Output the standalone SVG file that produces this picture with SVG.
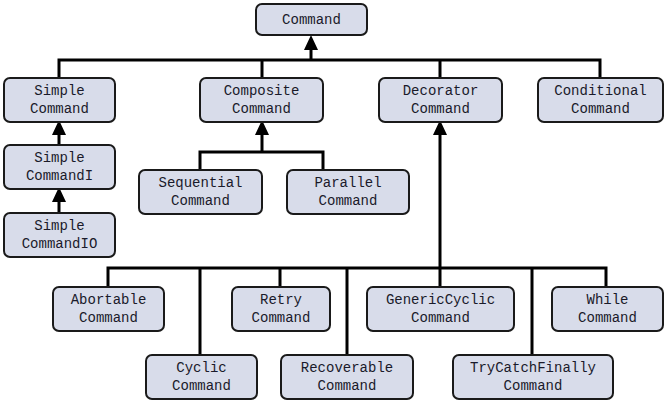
<svg xmlns="http://www.w3.org/2000/svg" width="666" height="402" viewBox="0 0 666 402">
<style>
.box{fill:#d8dcea;stroke:#1a1a1a;stroke-width:2}
.t{font-family:"Liberation Mono","Courier New",monospace;font-size:14px;fill:#1a1a2a;text-anchor:middle}
.c{fill:none;stroke:#000;stroke-width:3}
</style>
<defs>
<marker id="tri" viewBox="0 0 15 14" refX="0" refY="7" markerWidth="15" markerHeight="14" markerUnits="userSpaceOnUse" orient="auto">
<path d="M0,0 L15,7 L0,14 z" fill="#000"/>
</marker>
</defs>
<rect width="666" height="402" fill="#fff"/>
<g id="connectors">
<path class="c" d="M311,60 V50" marker-end="url(#tri)"/>
<path class="c" d="M59,78 V60 H600 V78 M262,60 V78 M440,60 V78"/>
<path class="c" d="M59,145 V135" marker-end="url(#tri)"/>
<path class="c" d="M59,213 V202" marker-end="url(#tri)"/>
<path class="c" d="M262,152 V135" marker-end="url(#tri)"/>
<path class="c" d="M200,170 V152 H323 V170"/>
<path class="c" d="M440,268 V135" marker-end="url(#tri)"/>
<path class="c" d="M108,287 V268 H606 V287 M200,268 V355 M280,268 V287 M347,268 V355 M440,268 V287 M532,268 V355"/>
</g>
<g id="command"><rect class="box" x="256" y="4" width="111" height="31" rx="6"/><text class="t" x="311.5" y="24">Command</text></g>
<g id="simple"><rect class="box" x="4" y="78" width="111" height="44" rx="6"/><text class="t" x="59.5" y="95">Simple</text><text class="t" x="59.5" y="113">Command</text></g>
<g id="composite"><rect class="box" x="200" y="78" width="123" height="44" rx="6"/><text class="t" x="261.5" y="95">Composite</text><text class="t" x="261.5" y="113">Command</text></g>
<g id="decorator"><rect class="box" x="379" y="78" width="123" height="44" rx="6"/><text class="t" x="440.5" y="95">Decorator</text><text class="t" x="440.5" y="113">Command</text></g>
<g id="conditional"><rect class="box" x="538" y="78" width="125" height="44" rx="6"/><text class="t" x="600.5" y="95">Conditional</text><text class="t" x="600.5" y="113">Command</text></g>
<g id="simpleI"><rect class="box" x="4" y="145" width="111" height="44" rx="6"/><text class="t" x="59.5" y="162">Simple</text><text class="t" x="59.5" y="180">CommandI</text></g>
<g id="simpleIO"><rect class="box" x="4" y="213" width="111" height="44" rx="6"/><text class="t" x="59.5" y="230">Simple</text><text class="t" x="59.5" y="248">CommandIO</text></g>
<g id="sequential"><rect class="box" x="139" y="170" width="123" height="44" rx="6"/><text class="t" x="200.5" y="187">Sequential</text><text class="t" x="200.5" y="205">Command</text></g>
<g id="parallel"><rect class="box" x="287" y="170" width="122" height="44" rx="6"/><text class="t" x="348" y="187">Parallel</text><text class="t" x="348" y="205">Command</text></g>
<g id="abortable"><rect class="box" x="53" y="287" width="111" height="44" rx="6"/><text class="t" x="108.5" y="304">Abortable</text><text class="t" x="108.5" y="322">Command</text></g>
<g id="retry"><rect class="box" x="232" y="287" width="98" height="44" rx="6"/><text class="t" x="281" y="304">Retry</text><text class="t" x="281" y="322">Command</text></g>
<g id="genericCyclic"><rect class="box" x="367" y="287" width="147" height="44" rx="6"/><text class="t" x="440.5" y="304">GenericCyclic</text><text class="t" x="440.5" y="322">Command</text></g>
<g id="while"><rect class="box" x="552" y="287" width="111" height="44" rx="6"/><text class="t" x="607.5" y="304">While</text><text class="t" x="607.5" y="322">Command</text></g>
<g id="cyclic"><rect class="box" x="146" y="355" width="111" height="44" rx="6"/><text class="t" x="201.5" y="372">Cyclic</text><text class="t" x="201.5" y="390">Command</text></g>
<g id="recoverable"><rect class="box" x="281" y="355" width="132" height="44" rx="6"/><text class="t" x="347" y="372">Recoverable</text><text class="t" x="347" y="390">Command</text></g>
<g id="tryCatchFinally"><rect class="box" x="453" y="355" width="160" height="44" rx="6"/><text class="t" x="533" y="372">TryCatchFinally</text><text class="t" x="533" y="390">Command</text></g>
</svg>
